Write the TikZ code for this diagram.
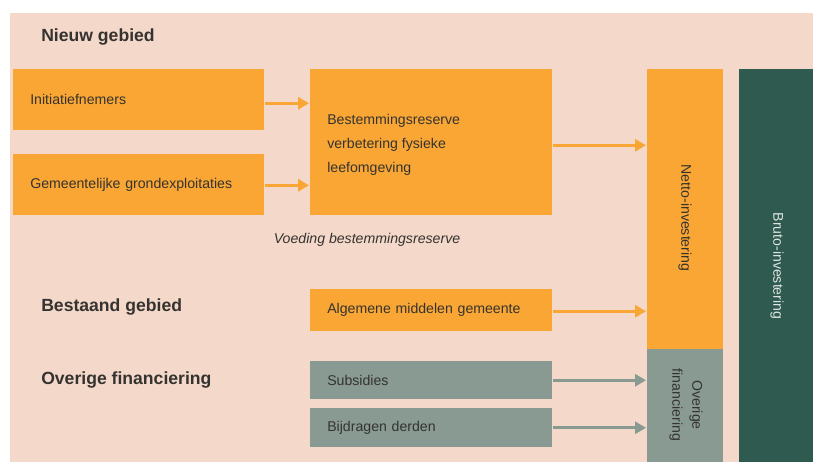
\documentclass[tikz,border=0pt]{standalone}
\usepackage{fontspec}
\setmainfont{Liberation Sans}
\usetikzlibrary{arrows.meta,calc}
\definecolor{bgpink}{HTML}{F4D8CA}
\definecolor{orng}{HTML}{F9A634}
\definecolor{gryg}{HTML}{889A92}
\definecolor{dkgr}{HTML}{2F5A50}
\definecolor{txt}{HTML}{353330}
\definecolor{ltxt}{HTML}{DDE4E0}
\def\u{0.75pt}
\begin{document}
\begin{tikzpicture}[x=0.75pt,y=-0.75pt,
  fbox/.style={rectangle, draw=none, inner sep=0pt, inner xsep=17*\u, align=left, anchor=north west,
    font=\fontsize{10.6}{17.8}\selectfont, text=txt},
  ob/.style={fbox, fill=orng},
  gb/.style={fbox, fill=gryg},
  head/.style={font=\fontsize{13.2}{15}\selectfont\bfseries, text=txt, anchor=west, inner sep=0pt},
  oarr/.style={draw=orng, line width=3*\u, -{Triangle[length=11*\u,width=12*\u]}, shorten >=1*\u},
  garr/.style={draw=gryg, line width=3*\u, -{Triangle[length=11*\u,width=12*\u]}, shorten >=1*\u}
]
\useasboundingbox (0,0) rectangle (813,462);
\fill[white] (0,0) rectangle (813,462);
\fill[bgpink] (10,13) rectangle (813,462);

% headings
\node[head] (h1) at (41,37) {Nieuw gebied};
\node[head] (h2) at (41,307) {Bestaand gebied};
\node[head] (h3) at (41,380) {Overige financiering};

% left boxes
\node[ob, text width=(251-34)*\u, minimum height=61*\u] (ini) at (13,69) {Initiatiefnemers};
\node[ob, text width=(251-34)*\u, minimum height=61*\u] (gem) at (13,154) {Gemeentelijke grondexploitaties};

% middle boxes
\node[ob, text width=(242-34)*\u, minimum height=146*\u] (bres) at (310,69) {};
\node[font=\fontsize{10.6}{17.8}\selectfont, text=txt, align=left, inner sep=0pt, anchor=west] (bresT) at (327,145) {Bestemmingsreserve\\verbetering fysieke\\leefomgeving};
\node[ob, text width=(242-34)*\u, minimum height=42*\u] (alg) at (310,289) {Algemene middelen gemeente};
\node[gb, text width=(242-34)*\u, minimum height=38*\u] (sub) at (310,361) {Subsidies};
\node[gb, text width=(242-34)*\u, minimum height=39*\u] (bij) at (310,408) {Bijdragen derden};

\node[font=\fontsize{10.6}{12}\itshape, text=txt, inner sep=0pt] (voed) at (367,240) {Voeding bestemmingsreserve};

% right columns
\node[rectangle, fill=orng, inner sep=0pt, minimum width=76*\u, minimum height=280*\u, anchor=north west] (net) at (647,69) {};
\node[rectangle, fill=gryg, inner sep=0pt, minimum width=76*\u, minimum height=113*\u, anchor=north west] (ovf) at (647,349) {};
\node[rectangle, fill=dkgr, inner sep=0pt, minimum width=74*\u, minimum height=393*\u, anchor=north west] (bru) at (739,69) {};

\node[rotate=-90, font=\fontsize{10.6}{12}\selectfont, text=txt, inner sep=0pt] (nett) at (685,218) {Netto-investering};
\node[rotate=-90, font=\fontsize{10.6}{15}\selectfont, text=txt, inner sep=0pt, align=center] (ovft) at (686,405) {Overige\\financiering};
\node[rotate=-90, font=\fontsize{10.6}{12}\selectfont, text=ltxt, inner sep=0pt] (brut) at (777,266) {Bruto-investering};

% arrows
\coordinate (a1) at ($(ini.east)+(0,3.5)$);
\coordinate (a2) at ($(gem.east)+(0,0.5)$);
\coordinate (a3) at ($(bres.east)+(0,3)$);
\coordinate (a4) at ($(alg.east)+(0,1)$);
\draw[oarr] (a1) -- (bres.west |- a1);
\draw[oarr] (a2) -- (bres.west |- a2);
\draw[oarr] (a3) -- (net.west |- a3);
\draw[oarr] (a4) -- (net.west |- a4);
\draw[garr] (sub.east) -- (ovf.west |- sub.east);
\draw[garr] (bij.east) -- (ovf.west |- bij.east);
\end{tikzpicture}
\end{document}
